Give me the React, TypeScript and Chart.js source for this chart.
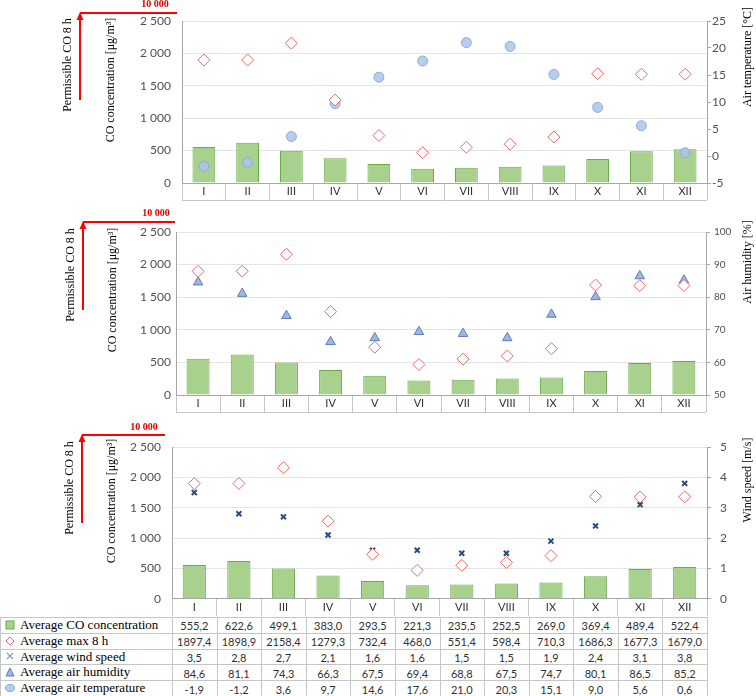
import React, { useEffect, useRef } from 'react';
import { Chart, registerables } from 'chart.js';

Chart.register(...registerables);

const months = ['I', 'II', 'III', 'IV', 'V', 'VI', 'VII', 'VIII', 'IX', 'X', 'XI', 'XII'];
const coConcentration = [555.2, 622.6, 499.1, 383.0, 293.5, 221.3, 235.5, 252.5, 269.0, 369.4, 489.4, 522.4];
const max8h = [1897.4, 1898.9, 2158.4, 1279.3, 732.4, 468.0, 551.4, 598.4, 710.3, 1686.3, 1677.3, 1679.0];
const windSpeed = [3.5, 2.8, 2.7, 2.1, 1.6, 1.6, 1.5, 1.5, 1.9, 2.4, 3.1, 3.8];
const airHumidity = [84.6, 81.1, 74.3, 66.3, 67.5, 69.4, 68.8, 67.5, 74.7, 80.1, 86.5, 85.2];
const airTemperature = [-1.9, -1.2, 3.6, 9.7, 14.6, 17.6, 21.0, 20.3, 15.1, 9.0, 5.6, 0.6];

const rowLabels = [
  'Average CO concentration',
  'Average max 8 h',
  'Average wind speed',
  'Average air humidity',
  'Average air temperature',
];

const W = 756;
const ROW_H = 17;
const BAR_FILL = '#a9d18e';
const BAR_BORDER = '#6aab46';
const DIAMOND = '#f26464';
const CIRCLE_FILL = 'rgba(170,196,234,0.85)';
const CIRCLE_BORDER = '#8eaad8';
const TRI_FILL = 'rgba(142,169,219,0.85)';
const TRI_BORDER = '#5b7cc0';
const CROSS = '#2b4a7e';
const AXIS = '#a6a6a6';
const GRID = '#e4e4e4';
const TICK = '#505050';

type PanelCfg = {
  top: number;
  height: number;
  areaTop: number;
  areaBottom: number;
  areaLeft: number;
  areaRight: number;
  leftPad: number;
  rightPad: number;
  rightFont: number;
  rightMin: number;
  rightMax: number;
  rightStep: number;
  rightTitle: string;
  rightTitleY: number;
  rowBottom: boolean;
  arrowX: number;
  arrowBottom: number;
  lineY: number;
  lineX2: number;
  numX: number;
  numY: number;
  permY: number;
  permX: number;
  coX: number;
  coY: number;
  kind: 'temp' | 'hum' | 'wind';
};

const panels: PanelCfg[] = [
  {
    top: 0, height: 205, areaTop: 21, areaBottom: 183, areaLeft: 182, areaRight: 707,
    leftPad: 11, rightPad: 1, rightFont: 12, rightMin: -5, rightMax: 25, rightStep: 5,
    rightTitle: 'Air temperature [°C]', rightTitleY: 57, rowBottom: true,
    arrowX: 80, arrowBottom: 100, lineY: 13, lineX2: 177, numX: 155, numY: 4,
    permX: 68, permY: 65, coX: 111, coY: 80, kind: 'temp',
  },
  {
    top: 205, height: 210, areaTop: 232, areaBottom: 395, areaLeft: 176, areaRight: 706,
    leftPad: 5, rightPad: 4, rightFont: 10, rightMin: 50, rightMax: 100, rightStep: 10,
    rightTitle: 'Air humidity [%]', rightTitleY: 262, rowBottom: true,
    arrowX: 83, arrowBottom: 310, lineY: 222, lineX2: 175, numX: 156, numY: 213,
    permX: 71, permY: 275, coX: 113, coY: 290, kind: 'hum',
  },
  {
    top: 415, height: 202, areaTop: 447, areaBottom: 600, areaLeft: 172, areaRight: 707,
    leftPad: 11, rightPad: 9, rightFont: 12, rightMin: 0, rightMax: 5, rightStep: 1,
    rightTitle: 'Wind speed [m/s]', rightTitleY: 480, rowBottom: false,
    arrowX: 82, arrowBottom: 523, lineY: 435, lineX2: 165, numX: 144, numY: 427,
    permX: 70, permY: 488, coX: 112, coY: 501, kind: 'wind',
  },
];

function fmtThousands(v: number): string {
  const s = String(Math.round(v));
  return s.replace(/\B(?=(\d{3})+(?!\d))/g, ' ');
}

function vText(ctx: CanvasRenderingContext2D, text: string, x: number, y: number, font: string) {
  ctx.save();
  ctx.translate(x, y);
  ctx.rotate(-Math.PI / 2);
  ctx.font = font;
  ctx.fillStyle = '#000';
  ctx.textAlign = 'center';
  ctx.textBaseline = 'middle';
  ctx.fillText(text, 0, 0);
  ctx.restore();
}

function pointDs(label: string, data: number[], axis: string, style: string, radius: number, fill: string, border: string, bw: number, order: number) {
  return {
    type: 'line', label, data, yAxisID: axis, showLine: false,
    pointStyle: style, pointRadius: radius, pointHoverRadius: radius,
    pointBackgroundColor: fill, pointHoverBackgroundColor: fill,
    pointBorderColor: border, pointHoverBorderColor: border,
    pointBorderWidth: bw, pointHoverBorderWidth: bw,
    backgroundColor: fill, borderColor: border, order,
  } as any;
}

function Panel({ cfg }: { cfg: PanelCfg }) {
  const ref = useRef<HTMLCanvasElement>(null);
  useEffect(() => {
    const canvas = ref.current!;
    const o = cfg.top;
    const areaTop = cfg.areaTop - o;
    const areaBottom = cfg.areaBottom - o;
    const padBottom = cfg.height - areaBottom - ROW_H;

    const annot = {
      id: 'annot' + cfg.kind,
      afterDraw(chart: any) {
        const ctx: CanvasRenderingContext2D = chart.ctx;
        const ca = chart.chartArea;
        ctx.save();
        if (cfg.rowBottom) {
          ctx.strokeStyle = '#c6c6c6';
          ctx.lineWidth = 1;
          ctx.beginPath();
          ctx.moveTo(ca.left, Math.round(ca.bottom + ROW_H) + 0.5);
          ctx.lineTo(ca.right, Math.round(ca.bottom + ROW_H) + 0.5);
          ctx.stroke();
        }
        const ly = cfg.lineY - o;
        ctx.strokeStyle = '#ff0000';
        ctx.lineWidth = 2;
        ctx.beginPath();
        ctx.moveTo(cfg.arrowX, cfg.arrowBottom - o);
        ctx.lineTo(cfg.arrowX, ly + 4);
        ctx.stroke();
        ctx.beginPath();
        ctx.moveTo(cfg.arrowX, ly);
        ctx.lineTo(cfg.lineX2, ly);
        ctx.stroke();
        ctx.fillStyle = '#ff0000';
        ctx.beginPath();
        ctx.moveTo(cfg.arrowX, ly - 1);
        ctx.lineTo(cfg.arrowX - 3.5, ly + 7);
        ctx.lineTo(cfg.arrowX + 3.5, ly + 7);
        ctx.closePath();
        ctx.fill();
        ctx.font = 'bold 10px "Liberation Serif"';
        ctx.textAlign = 'center';
        ctx.textBaseline = 'middle';
        ctx.fillStyle = '#e00000';
        ctx.fillText('10 000', cfg.numX, cfg.numY - o);
        vText(ctx, 'Permissible CO 8 h', cfg.permX, cfg.permY - o, '12px "Liberation Serif"');
        vText(ctx, 'CO concentration [μg/m³]', cfg.coX, cfg.coY - o, '12px "Liberation Serif"');
        vText(ctx, cfg.rightTitle, 748, cfg.rightTitleY - o, '12px "Liberation Serif"');
        ctx.restore();
      },
    };

    let rightDs: any;
    if (cfg.kind === 'temp') {
      rightDs = pointDs('Average air temperature', airTemperature, 'y1', 'circle', 5, CIRCLE_FILL, CIRCLE_BORDER, 1, 1);
    } else if (cfg.kind === 'hum') {
      rightDs = pointDs('Average air humidity', airHumidity, 'y1', 'triangle', 5.5, TRI_FILL, TRI_BORDER, 1, 1);
    } else {
      rightDs = pointDs('Average wind speed', windSpeed, 'y1', 'crossRot', 3.5, CROSS, CROSS, 2, 1);
    }
    const maxDs = pointDs('Average max 8 h', max8h, 'y', 'rectRot', 6, '#ffffff', DIAMOND, 1, 0);

    const chart = new Chart(canvas, {
      type: 'bar',
      data: {
        labels: months,
        datasets: [
          maxDs,
          rightDs,
          {
            type: 'bar', label: 'Average CO concentration', data: coConcentration, yAxisID: 'y',
            backgroundColor: BAR_FILL, borderColor: BAR_BORDER, borderWidth: 1,
            hoverBackgroundColor: BAR_FILL, hoverBorderColor: BAR_BORDER, hoverBorderWidth: 1,
            barPercentage: 0.52, categoryPercentage: 1, order: 3,
          } as any,
        ],
      },
      options: {
        responsive: false,
        animation: false,
        events: [],
        hover: { mode: null },
        layout: { padding: { top: areaTop, bottom: padBottom, left: 0, right: 0 } },
        plugins: { legend: { display: false }, tooltip: { enabled: false } },
        scales: {
          x: {
            type: 'category',
            offset: true,
            grid: { offset: true, drawOnChartArea: false, drawTicks: true, tickLength: ROW_H, color: '#c6c6c6' },
            border: { color: AXIS },
            ticks: { padding: -15, color: '#303030', font: { family: 'Lato', size: 11 }, maxRotation: 0, autoSkip: false },
            afterFit: (s: any) => { s.height = ROW_H; },
          },
          y: {
            position: 'left', min: 0, max: 2500,
            ticks: { stepSize: 500, padding: cfg.leftPad, color: TICK, font: { family: 'Lato', size: 12 }, callback: (v: any) => fmtThousands(Number(v)) },
            grid: { color: GRID, drawTicks: false },
            border: { color: AXIS },
            afterFit: (s: any) => { s.width = cfg.areaLeft; },
          },
          y1: {
            position: 'right', min: cfg.rightMin, max: cfg.rightMax,
            ticks: { stepSize: cfg.rightStep, padding: cfg.rightPad, color: TICK, font: { family: 'Lato', size: cfg.rightFont } },
            grid: { drawOnChartArea: false, drawTicks: true, tickLength: 4, color: AXIS },
            border: { color: AXIS },
            afterFit: (s: any) => { s.width = W - cfg.areaRight; },
          },
        },
      } as any,
      plugins: [annot],
    });
    return () => chart.destroy();
  }, [cfg]);
  return (
    <canvas
      ref={ref}
      width={W}
      height={cfg.height}
      style={{ position: 'absolute', left: 0, top: cfg.top, width: W, height: cfg.height, pointerEvents: 'none' }}
    />
  );
}

function fmtNum(v: number): string {
  return v.toFixed(1).replace('.', ',');
}

function Icon({ i }: { i: number }) {
  if (i === 0) return <svg width="10" height="10"><rect x="1" y="1" width="8" height="8" fill={BAR_FILL} stroke={BAR_BORDER} /></svg>;
  if (i === 1) return <svg width="10" height="10"><polygon points="5,1 9,5 5,9 1,5" fill="#fff" stroke={DIAMOND} /></svg>;
  if (i === 2) return <svg width="10" height="10"><path d="M2,2 L8,8 M8,2 L2,8" stroke="#7f9bd0" strokeWidth="1.2" /></svg>;
  if (i === 3) return <svg width="10" height="10"><polygon points="5,1 9,9 1,9" fill={TRI_FILL} stroke={TRI_BORDER} /></svg>;
  return <svg width="10" height="10"><ellipse cx="5" cy="5" rx="4.5" ry="3.5" fill={CIRCLE_FILL} stroke={CIRCLE_BORDER} /></svg>;
}

function DataTable() {
  const top = 617;
  const rowH = 15.8;
  const left0 = 172;
  const right = 707;
  const colW = (right - left0) / 12;
  const rows = [coConcentration, max8h, windSpeed, airHumidity, airTemperature];
  const lines: any[] = [];
  for (let k = 0; k <= 5; k++) {
    lines.push(<div key={'h' + k} style={{ position: 'absolute', left: 0, top: Math.round(top + k * rowH), width: right + 1, height: 1, background: '#c6c6c6' }} />);
  }
  const vx = [0];
  for (let i = 0; i <= 12; i++) vx.push(Math.round(left0 + i * colW));
  vx.forEach((x, i) => {
    lines.push(<div key={'v' + i} style={{ position: 'absolute', left: x, top, width: 1, height: 5 * rowH, background: '#c6c6c6' }} />);
  });
  const cells: any[] = [];
  rows.forEach((arr, r) => {
    const y = top + r * rowH;
    cells.push(
      <div key={'l' + r} style={{ position: 'absolute', left: 5, top: y, height: rowH, display: 'flex', alignItems: 'center', whiteSpace: 'nowrap' }}>
        <Icon i={r} />
        <span style={{ marginLeft: 5, font: '13px "Liberation Serif"', color: '#000' }}>{rowLabels[r]}</span>
      </div>
    );
    arr.forEach((v, i) => {
      cells.push(
        <div key={'c' + r + '_' + i} style={{ position: 'absolute', left: left0 + i * colW, top: y + 1, width: colW, height: rowH, display: 'flex', alignItems: 'center', justifyContent: 'center', font: '11px Lato', color: '#303030' }}>
          {fmtNum(v)}
        </div>
      );
    });
  });
  return <>{lines}{cells}</>;
}

export default function App() {
  return (
    <div style={{ position: 'absolute', left: 0, top: 0, width: W, height: 696, background: '#fff', overflow: 'hidden' }}>
      {panels.map((p) => (
        <Panel key={p.kind} cfg={p} />
      ))}
      <DataTable />
    </div>
  );
}
